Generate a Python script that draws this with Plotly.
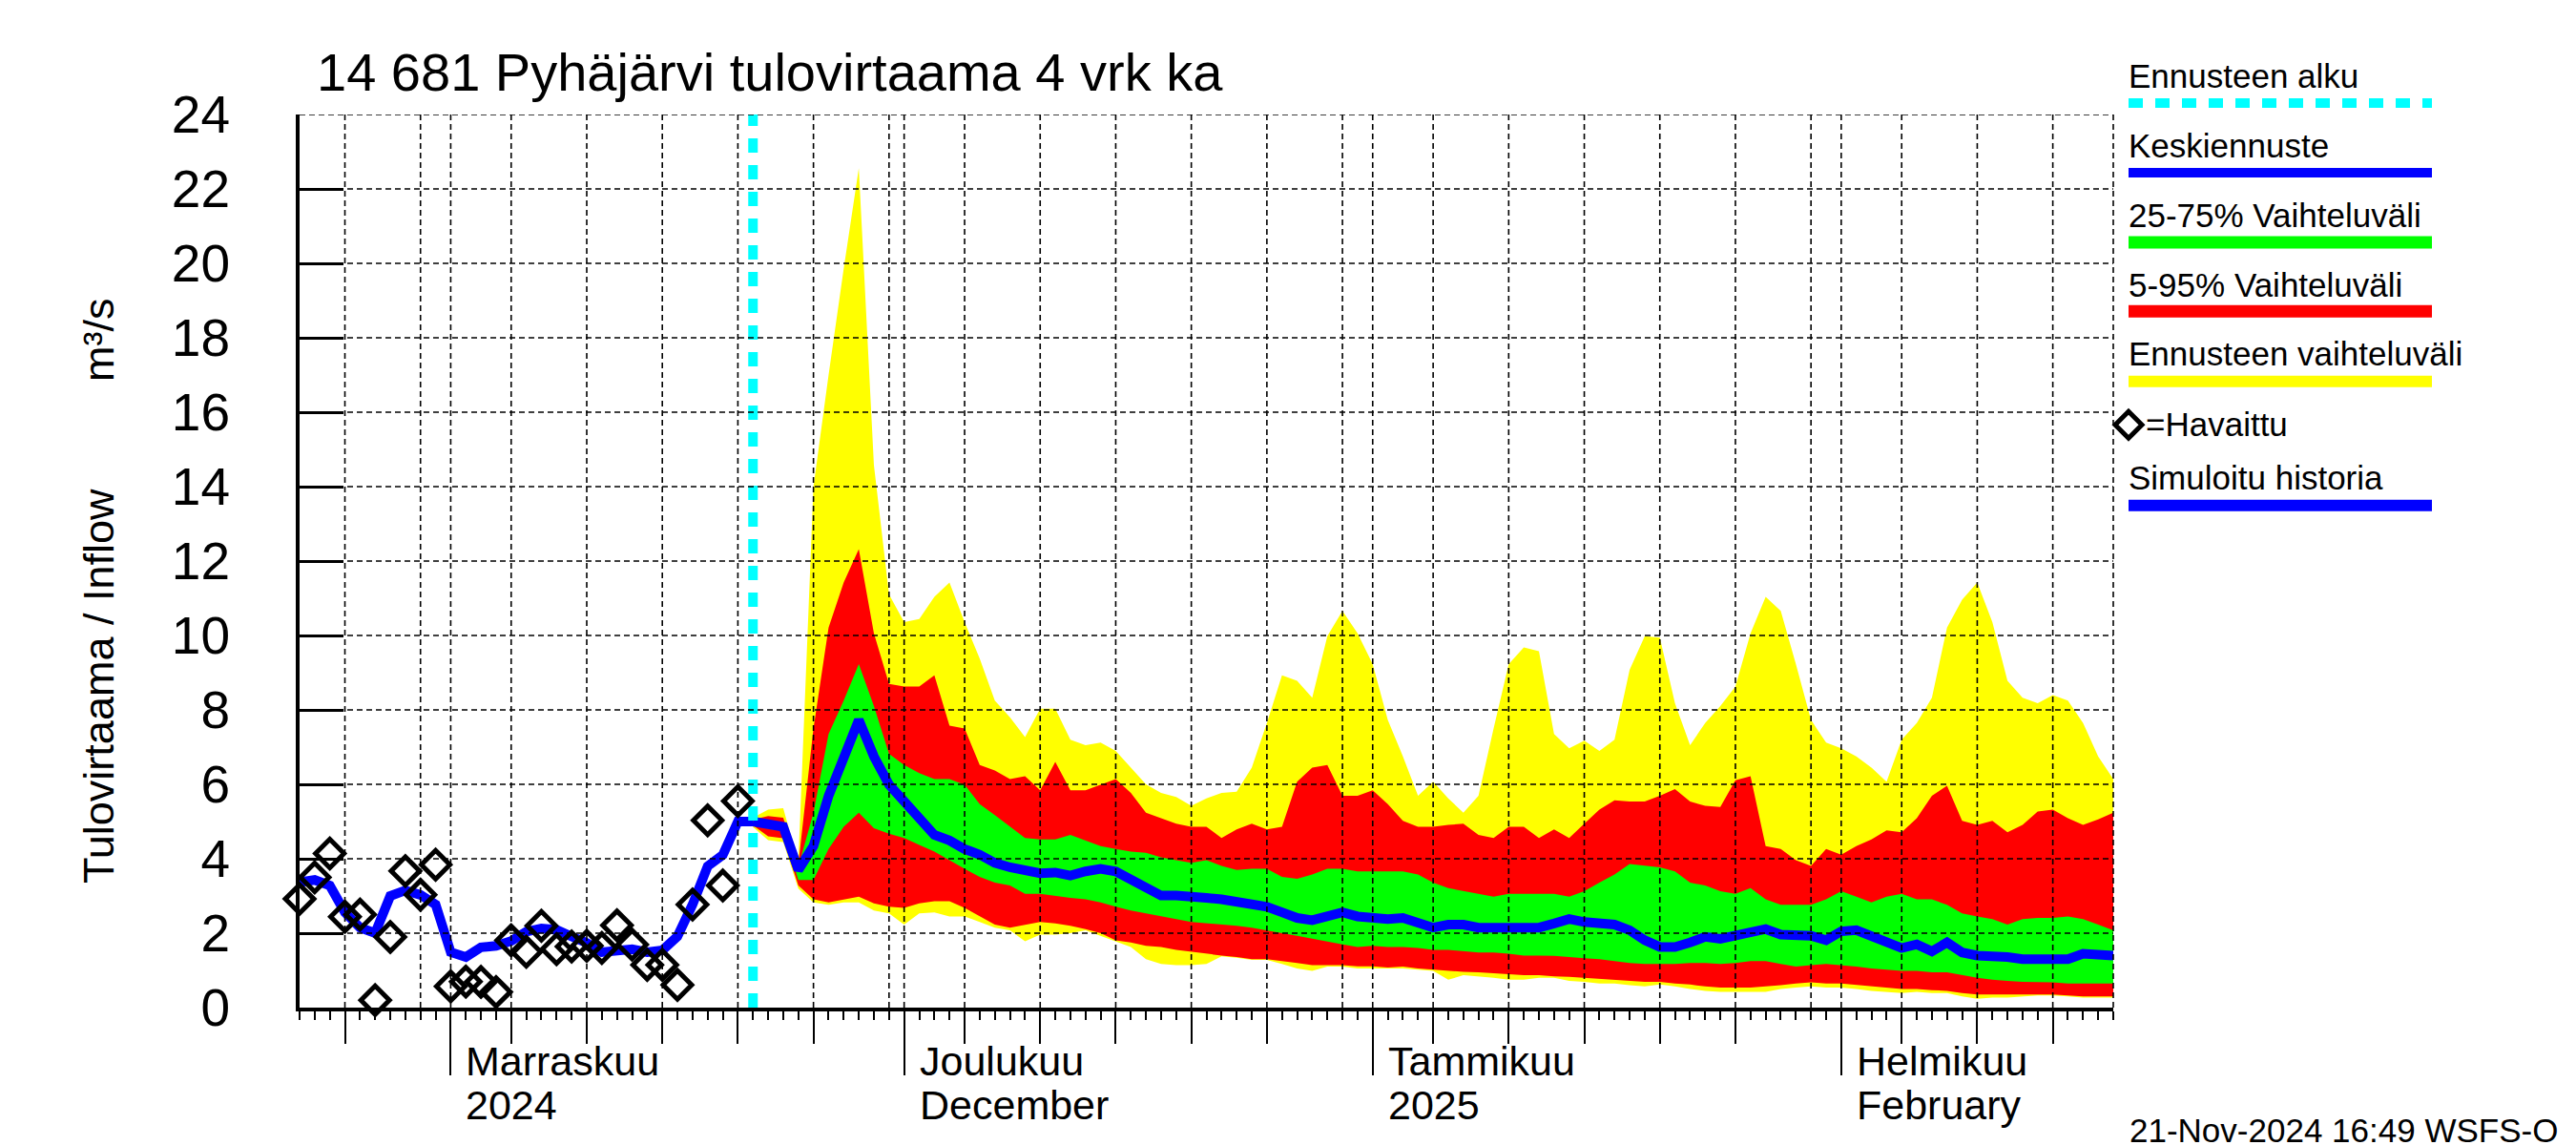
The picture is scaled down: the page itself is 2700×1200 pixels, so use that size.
import plotly.graph_objects as go
import pandas as pd

# ---------------- data ----------------
hist_start = "2024-10-22"
simulated_history = [3.37, 3.43, 3.28, 2.56, 2.15, 2.0, 3.0, 3.15, 3.03, 2.77,
                     1.49, 1.36, 1.62, 1.66, 1.79, 2.04, 2.13, 2.09, 1.91, 1.74,
                     1.49, 1.54, 1.57, 1.49, 1.54, 1.91, 2.77, 3.8, 4.1, 5.0, 5.0]
observed = [2.92, 3.5, 4.14, 2.44, 2.5, 0.2, 1.9, 3.67, 3.03, 3.84,
            0.57, 0.7, 0.69, 0.42, 1.81, 1.5, 2.2, 1.57, 1.64, 1.66,
            1.6, 2.21, 1.69, 1.15, 1.15, 0.61, 2.77, 5.03, 3.28, 5.55]

forecast_start = "2024-11-21"
fc_max = [5.1, 5.32, 5.36, 3.9, 14.0, 17.0, 19.85, 22.56, 14.58, 11.1,
          10.36, 10.44, 11.04, 11.42, 10.36, 9.38, 8.25, 7.8, 7.27, 8.03,
          8.03, 7.2, 7.05, 7.12, 6.9, 6.45, 6.0, 5.77, 5.66, 5.42,
          5.62, 5.77, 5.8, 6.45, 7.65, 8.93, 8.78, 8.33, 9.98, 10.66,
          10.06, 9.23, 7.73, 6.75, 5.69, 6.07, 5.62, 5.24, 5.69, 7.5,
          9.23, 9.68, 9.58, 7.35, 6.97, 7.17, 6.9, 7.2, 9.08, 9.98,
          9.94, 8.18, 7.05, 7.65, 8.1, 8.63, 10.06, 11.04, 10.66, 9.23,
          7.73, 7.12, 6.97, 6.75, 6.45, 6.07, 7.2, 7.65, 8.33, 10.21,
          10.96, 11.42, 10.36, 8.78, 8.33, 8.18, 8.4, 8.25, 7.65, 6.75, 6.14]
fc_p95 = [5.05, 5.15, 5.1, 3.85, 7.5, 10.21, 11.42, 12.32, 10.06, 8.7,
          8.63, 8.63, 8.93, 7.58, 7.5, 6.52, 6.37, 6.14, 6.22, 5.84,
          6.6, 5.84, 5.84, 5.99, 6.14, 5.77, 5.24, 5.09, 4.94, 4.86,
          4.86, 4.56, 4.79, 4.94, 4.79, 4.86, 6.07, 6.45, 6.52, 5.69,
          5.69, 5.84, 5.47, 5.02, 4.86, 4.86, 4.91, 4.94, 4.64, 4.56,
          4.86, 4.86, 4.56, 4.79, 4.56, 4.94, 5.32, 5.57, 5.54, 5.54,
          5.69, 5.87, 5.54, 5.42, 5.39, 6.11, 6.22, 4.34, 4.26, 3.96,
          3.81, 4.26, 4.11, 4.34, 4.52, 4.76, 4.71, 5.09, 5.69, 5.96,
          5.02, 4.91, 5.02, 4.71, 4.91, 5.27, 5.32, 5.09, 4.91, 5.06, 5.24]
fc_p75 = [5.0, 5.0, 4.95, 3.78, 5.24, 7.35, 8.25, 9.23, 8.1, 6.82,
          6.52, 6.3, 6.14, 6.14, 5.99, 5.47, 5.17, 4.86, 4.56, 4.52,
          4.52, 4.64, 4.49, 4.34, 4.26, 4.19, 4.16, 4.04, 3.96, 3.89,
          3.96, 3.81, 3.7, 3.73, 3.73, 3.51, 3.46, 3.58, 3.73, 3.73,
          3.66, 3.66, 3.66, 3.66, 3.58, 3.36, 3.21, 3.13, 3.06, 2.98,
          3.06, 3.06, 3.06, 3.06, 2.98, 3.13, 3.36, 3.58, 3.86, 3.81,
          3.77, 3.66, 3.36, 3.28, 3.13, 3.06, 3.21, 2.91, 2.76, 2.76,
          2.76, 2.91, 3.13, 2.98, 2.83, 2.98, 3.06, 2.91, 2.91, 2.76,
          2.53, 2.45, 2.38, 2.23, 2.38, 2.41, 2.41, 2.45, 2.38, 2.23, 2.08]
fc_mean = [5.0, 4.91, 4.86, 3.7, 4.34, 5.69, 6.75, 7.73, 6.75, 5.99,
           5.54, 5.09, 4.64, 4.49, 4.26, 4.11, 3.89, 3.77, 3.66, 3.61,
           3.63, 3.55, 3.66, 3.73, 3.66, 3.43, 3.21, 3.01, 3.01, 3.01,
           2.95, 2.91, 2.83, 2.8, 2.71, 2.56, 2.41, 2.35, 2.45, 2.56,
           2.45, 2.41, 2.38, 2.41, 2.3, 2.15, 2.23, 2.23, 2.15, 2.15,
           2.18, 2.18, 2.15, 2.26, 2.38, 2.3, 2.26, 2.23, 2.08, 1.81,
           1.63, 1.63, 1.75, 1.9, 1.85, 1.93, 2.05, 2.11, 1.96, 1.93,
           1.93, 1.81, 2.05, 2.08, 1.93, 1.78, 1.6, 1.7, 1.51, 1.75,
           1.48, 1.4, 1.4, 1.36, 1.3, 1.3, 1.3, 1.3, 1.45, 1.45, 1.4]
fc_p25 = [4.95, 4.8, 4.75, 3.43, 3.43, 4.26, 4.86, 5.24, 4.82, 4.67,
          4.56, 4.37, 4.19, 3.96, 3.73, 3.51, 3.36, 3.28, 3.06, 3.06,
          3.01, 2.95, 2.91, 2.83, 2.71, 2.61, 2.53, 2.45, 2.38, 2.3,
          2.26, 2.23, 2.2, 2.15, 2.08, 2.0, 1.93, 1.85, 1.78, 1.7,
          1.63, 1.66, 1.63, 1.63, 1.6, 1.55, 1.55, 1.52, 1.48, 1.48,
          1.45, 1.4, 1.4, 1.39, 1.36, 1.33, 1.3, 1.25, 1.2, 1.17,
          1.17, 1.17, 1.2, 1.2, 1.17, 1.2, 1.25, 1.25, 1.17, 1.1,
          1.14, 1.17, 1.14, 1.1, 1.05, 1.02, 0.99, 0.99, 0.95, 0.95,
          0.87, 0.8, 0.75, 0.72, 0.69, 0.68, 0.68, 0.65, 0.65, 0.65, 0.65]
fc_p05 = [4.9, 4.6, 4.55, 3.28, 2.91, 2.83, 2.91, 2.98, 2.8, 2.71,
          2.68, 2.8, 2.86, 2.86, 2.68, 2.45, 2.23, 2.15, 2.23, 2.3,
          2.26, 2.2, 2.11, 2.0, 1.81, 1.75, 1.66, 1.63, 1.55, 1.51,
          1.45, 1.4, 1.36, 1.3, 1.3, 1.25, 1.2, 1.14, 1.14, 1.14,
          1.11, 1.11, 1.08, 1.1, 1.05, 1.02, 0.99, 0.96, 0.95, 0.93,
          0.9, 0.87, 0.87, 0.84, 0.83, 0.8, 0.78, 0.75, 0.72, 0.69,
          0.69, 0.65, 0.62, 0.57, 0.54, 0.54, 0.54, 0.57, 0.6, 0.65,
          0.68, 0.65, 0.65, 0.62, 0.57, 0.54, 0.5, 0.5, 0.47, 0.45,
          0.39, 0.35, 0.35, 0.35, 0.35, 0.35, 0.35, 0.33, 0.3, 0.3, 0.3]
fc_min = [4.85, 4.5, 4.45, 3.2, 2.83, 2.76, 2.83, 2.83, 2.61, 2.53,
          2.23, 2.53, 2.56, 2.45, 2.45, 2.3, 2.15, 2.08, 1.78, 1.96,
          1.96, 2.0, 2.08, 1.93, 1.78, 1.63, 1.3, 1.17, 1.14, 1.14,
          1.17, 1.38, 1.34, 1.28, 1.28, 1.17, 1.05, 0.99, 1.1, 1.1,
          1.05, 1.05, 1.05, 1.05, 1.02, 0.99, 0.75, 0.87, 0.84, 0.8,
          0.75, 0.75, 0.8, 0.8, 0.72, 0.69, 0.65, 0.65, 0.6, 0.57,
          0.62, 0.57, 0.5, 0.45, 0.42, 0.42, 0.42, 0.42, 0.5, 0.54,
          0.57, 0.54, 0.54, 0.5, 0.45, 0.42, 0.39, 0.42, 0.39, 0.39,
          0.3, 0.24, 0.27, 0.27, 0.3, 0.33, 0.33, 0.3, 0.27, 0.27, 0.27]

x_range = ["2024-10-22", "2025-02-19"]
month_starts = ["2024-11-01", "2024-12-01", "2025-01-01", "2025-02-01"]
month_label_1 = ["Marraskuu", "Joulukuu", "Tammikuu", "Helmikuu"]
month_label_2 = ["2024", "December", "2025", "February"]
grid_days = [5, 10, 15, 20, 25, 30]
tick_days = [5, 10, 15, 20, 25]
y_ticks = list(range(0, 25, 2))

title_text = "14 681 Pyhäjärvi tulovirtaama 4 vrk ka"
ytitle_text = "Tulovirtaama / Inflow" + "\u00a0" * 9 + "m³/s"
stamp_text = "21-Nov-2024 16:49 WSFS-O"
legend_labels = ["Ennusteen alku", "Keskiennuste", "25-75% Vaihteluväli",
                 "5-95% Vaihteluväli", "Ennusteen vaihteluväli", "=Havaittu",
                 "Simuloitu historia"]

# ---------------- derived dates ----------------
hist_dates = pd.date_range(hist_start, periods=len(simulated_history), freq="D")
obs_dates = pd.date_range(hist_start, periods=len(observed), freq="D")
fc_dates = pd.date_range(forecast_start, periods=len(fc_mean), freq="D")

rng0, rng1 = pd.Timestamp(x_range[0]), pd.Timestamp(x_range[1])
months = pd.date_range("2024-10-01", "2025-02-01", freq="MS")
grid_dates, tick_dates = [], []
for m in months:
    if rng0 <= m <= rng1:
        grid_dates.append(m)
    for d in grid_days:
        try:
            t = m.replace(day=d)
        except ValueError:
            continue
        if rng0 < t < rng1:
            grid_dates.append(t)
            if d in tick_days:
                tick_dates.append(t)

# ---------------- layout geometry (px) ----------------
W, H = 2700, 1200
L, R, T, B = 306, 2207, 112, 1048
PW, PH = R - L, B - T


def pxx(px):
    return (px - L) / PW


def pxy(py):
    return (B - py) / PH


FONT = "Liberation Sans, Arial, Helvetica, sans-serif"
YELLOW, RED, GREEN, BLUE, CYAN = "#FFFF00", "#FF0000", "#00FF00", "#0000FF", "#00FFFF"

fig = go.Figure()


def band(lo, hi, color):
    xs = list(fc_dates) + list(fc_dates[::-1])
    ys = list(hi) + list(lo[::-1])
    fig.add_trace(go.Scatter(x=xs, y=ys, fill="toself", fillcolor=color,
                             line=dict(width=0, color=color), mode="lines",
                             hoverinfo="skip", showlegend=False))


band(fc_min, fc_max, YELLOW)
band(fc_p05, fc_p95, RED)
band(fc_p25, fc_p75, GREEN)

fig.add_trace(go.Scatter(x=hist_dates, y=simulated_history, mode="lines",
                         line=dict(color=BLUE, width=10), showlegend=False))
fig.add_trace(go.Scatter(x=fc_dates, y=fc_mean, mode="lines",
                         line=dict(color=BLUE, width=10), showlegend=False))
fig.add_trace(go.Scatter(x=[forecast_start, forecast_start], y=[0, 24], mode="lines",
                         line=dict(color=CYAN, width=10, dash="15px,13px"),
                         showlegend=False))
fig.add_trace(go.Scatter(x=obs_dates, y=observed, mode="markers",
                         marker=dict(symbol="diamond-open", size=23, color="black",
                                     line=dict(width=5, color="black")),
                         cliponaxis=False, showlegend=False))
# carrier trace for the month-tick axis
fig.add_trace(go.Scatter(x=month_starts, y=[None] * len(month_starts), xaxis="x2",
                         mode="lines", showlegend=False, hoverinfo="skip"))

shapes = []
grid_line = dict(color="black", width=1.6, dash="6px,4px")
for d in grid_dates:
    shapes.append(dict(type="line", xref="x", yref="paper", x0=d, x1=d, y0=0, y1=1,
                       line=grid_line, layer="above"))
for v in y_ticks[1:]:
    shapes.append(dict(type="line", xref="paper", yref="y", x0=0, x1=1, y0=v, y1=v,
                       line=grid_line, layer="above"))
shapes.append(dict(type="line", xref="paper", yref="paper", x0=1, x1=1, y0=0, y1=1,
                   line=grid_line, layer="above"))

# legend
LX0, LX1 = 2223, 2541
leg_text_base = [83.3, 156.7, 230, 302.7, 375, 448.3, 505]
leg_line_y = [100, 173, 246, 318.3, 391.7, None, 521.7]
leg_line_style = [dict(color=CYAN, width=10, dash="15px,13px"),
                  dict(color=BLUE, width=10), dict(color=GREEN, width=13),
                  dict(color=RED, width=13), dict(color=YELLOW, width=12), None,
                  dict(color=BLUE, width=12)]
for yl, st in zip(leg_line_y, leg_line_style):
    if yl is None:
        continue
    shapes.append(dict(type="line", xref="paper", yref="paper", x0=pxx(LX0), x1=pxx(LX1),
                       y0=pxy(yl), y1=pxy(yl), line=st))
# legend diamond
cx, cy, r = 2223, 437.3, 14
path = "M {} {} L {} {} L {} {} L {} {} Z".format(
    pxx(cx - r), pxy(cy), pxx(cx), pxy(cy - r), pxx(cx + r), pxy(cy), pxx(cx), pxy(cy + r))
shapes.append(dict(type="path", xref="paper", yref="paper", path=path,
                   line=dict(color="black", width=5)))

annotations = []
LF = 35
for i, (txt, base) in enumerate(zip(legend_labels, leg_text_base)):
    x0 = 2241 if i == 5 else LX0
    annotations.append(dict(text=txt, xref="paper", yref="paper", x=pxx(x0 - 2),
                            y=pxy(base - 0.35 * LF), xanchor="left", yanchor="middle",
                            showarrow=False, font=dict(family=FONT, size=LF, color="black")))

TF = 56
annotations.append(dict(text=title_text, xref="paper", yref="paper", x=pxx(322),
                        y=pxy(87 - 0.35 * TF), xanchor="left", yanchor="middle",
                        showarrow=False, font=dict(family=FONT, size=TF, color="black")))
YF = 45
annotations.append(dict(text=ytitle_text, xref="paper", yref="paper", x=pxx(95),
                        y=pxy(612), xanchor="center", yanchor="middle", textangle=-90,
                        showarrow=False, font=dict(family=FONT, size=YF, color="black")))
SF = 35
annotations.append(dict(text=stamp_text, xref="paper", yref="paper", x=pxx(2222),
                        y=pxy(1176), xanchor="left", yanchor="middle",
                        showarrow=False, font=dict(family=FONT, size=SF, color="black")))
MF = 43
for ms, l1, l2 in zip(month_starts, month_label_1, month_label_2):
    for txt, base in ((l1, 1119), (l2, 1165)):
        annotations.append(dict(text=txt, xref="x", yref="paper", x=ms, xshift=14,
                                y=pxy(base - 0.35 * MF), xanchor="left", yanchor="middle",
                                showarrow=False,
                                font=dict(family=FONT, size=MF, color="black")))

fig.update_layout(
    width=W, height=H,
    margin=dict(l=L, r=W - R, t=T, b=H - B, autoexpand=False),
    paper_bgcolor="white", plot_bgcolor="white",
    showlegend=False,
    shapes=shapes, annotations=annotations,
    xaxis=dict(type="date", range=x_range, showgrid=False, zeroline=False,
               tickmode="array", tickvals=tick_dates, showticklabels=False,
               ticks="outside", ticklen=34, tickwidth=2, tickcolor="black",
               showline=True, linewidth=4, linecolor="black",
               minor=dict(tickmode="linear", tick0=x_range[0], dtick=86400000,
                          ticks="outside", ticklen=9, tickwidth=2, tickcolor="black",
                          showgrid=False)),
    xaxis2=dict(type="date", overlaying="x", matches="x", anchor="y", side="bottom",
                tickmode="array", tickvals=month_starts, showticklabels=False,
                ticks="outside", ticklen=70, tickwidth=2, tickcolor="black",
                showgrid=False, showline=False, zeroline=False),
    yaxis=dict(range=[0, 24], tickmode="array", tickvals=y_ticks, showgrid=False,
               zeroline=False, ticks="inside", ticklen=46, tickwidth=3,
               tickcolor="black", showline=True, linewidth=4, linecolor="black",
               ticklabelstandoff=58,
               tickfont=dict(family=FONT, size=55, color="black")),
)

fig.write_html("out.html")
